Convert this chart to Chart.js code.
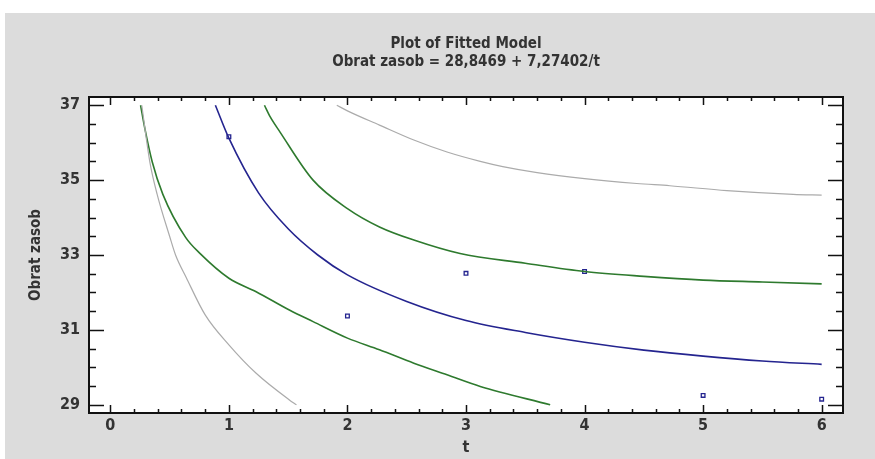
<!DOCTYPE html>
<html><head><meta charset="utf-8">
<script src="https://cdn.jsdelivr.net/npm/chart.js@4.4.1/dist/chart.umd.min.js"></script>
<style>
html,body{margin:0;padding:0;background:#fff;width:875px;height:459px;overflow:hidden}
#wrap{position:absolute;left:5px;top:13px;width:870px;height:446px;background:#dcdcdc}
canvas{display:block}
</style></head><body>
<div id="wrap"><canvas id="c" width="870" height="446"></canvas></div>
<script>
// ---- text ----
const titleLines = ['Plot of Fitted Model', 'Obrat zasob = 28,8469 + 7,27402/t'];
const xTitle = 't';
const yTitle = 'Obrat zasob';
// ---- ticks / ranges ----
const xTicks = [0, 1, 2, 3, 4, 5, 6];
const yTicks = [29, 31, 33, 35, 37];
const xRange = [-0.18, 6.18];
const yRange = [28.78, 37.22];
// ---- fitted line ----
const fitT = [0.886, 1, 1.25, 1.5, 1.75, 2, 2.5, 3, 3.5, 4, 4.5, 5, 5.5, 6];
const fitY = [37.0, 36.12, 34.66, 33.70, 33.00, 32.47, 31.76, 31.25, 30.93, 30.67, 30.46, 30.30, 30.17, 30.08];
// ---- confidence limits (green) ----
const confUpT = [1.30, 1.35, 1.43, 1.71, 2.0, 2.27, 2.56, 2.95, 3.5, 4.0, 4.5, 5.0, 5.5, 6.0];
const confUpY = [37.0, 36.68, 36.29, 35.0, 34.24, 33.75, 33.40, 33.04, 32.78, 32.56, 32.43, 32.33, 32.28, 32.23];
const confLoT = [0.255, 0.291, 0.353, 0.443, 0.635, 0.76, 1.0, 1.23, 1.51, 1.71, 2.0, 2.27, 2.56, 2.84, 3.12, 3.71];
const confLoY = [37.0, 36.38, 35.49, 34.62, 33.47, 33.03, 32.38, 32.02, 31.53, 31.22, 30.78, 30.47, 30.11, 29.80, 29.49, 29.0];
// ---- prediction limits (gray) ----
const predUpT = [1.91, 2.0, 2.27, 2.56, 2.84, 3.12, 3.31, 3.6, 4.0, 4.44, 4.72, 5.2, 5.76, 6.0];
const predUpY = [37.0, 36.85, 36.47, 36.07, 35.75, 35.50, 35.36, 35.20, 35.04, 34.91, 34.85, 34.72, 34.62, 34.60];
const predLoT = [0.265, 0.333, 0.395, 0.50, 0.55, 0.64, 0.80, 1.0, 1.23, 1.51, 1.57];
const predLoY = [37.0, 35.49, 34.62, 33.50, 33.00, 32.40, 31.40, 30.60, 29.84, 29.13, 29.0];
// ---- observations ----
const obsT = [1, 2, 3, 4, 5, 6];
const obsY = [36.16, 31.37, 32.51, 32.56, 29.25, 29.15];

const zip = (xs, ys) => xs.map((x, i) => ({x, y: ys[i]}));
const FONT = "'DejaVu Sans Condensed', 'Liberation Sans', sans-serif";
const TXT = '#333333';

const curve = (data, color, w) => ({
  data, showLine: true, borderColor: color, borderWidth: w, pointRadius: 0,
  fill: false, cubicInterpolationMode: 'monotone'
});

const frame = {
  id: 'frame',
  beforeDatasetsDraw(chart) {
    const {ctx, chartArea: a} = chart;
    ctx.save();
    ctx.fillStyle = '#ffffff';
    ctx.fillRect(a.left, a.top, a.right - a.left, a.bottom - a.top);
    ctx.restore();
  },
  afterDatasetsDraw(chart) {
    const {ctx, chartArea: a, scales: {x, y}} = chart;
    ctx.save();
    ctx.strokeStyle = '#111';
    ctx.lineWidth = 1.5;
    ctx.beginPath();
    for (let i = 0; i <= 30; i++) {
      const px = Math.round(x.getPixelForValue(i / 5)) + 0.5;
      const len = i % 5 === 0 ? 8 : 4;
      ctx.moveTo(px, a.bottom); ctx.lineTo(px, a.bottom - len);
      ctx.moveTo(px, a.top); ctx.lineTo(px, a.top + len);
    }
    for (let i = 0; i <= 16; i++) {
      const py = Math.round(y.getPixelForValue(29 + i / 2)) + 0.5;
      const len = i % 4 === 0 ? 15 : 7;
      ctx.moveTo(a.left, py); ctx.lineTo(a.left + len, py);
      ctx.moveTo(a.right, py); ctx.lineTo(a.right - len, py);
    }
    ctx.stroke();
    ctx.lineWidth = 2;
    ctx.strokeRect(a.left, a.top, a.right - a.left, a.bottom - a.top);
    ctx.restore();
  }
};

new Chart(document.getElementById('c'), {
  type: 'scatter',
  data: {
    datasets: [
      curve(zip(predUpT, predUpY), '#ababab', 1.2),
      curve(zip(predLoT, predLoY), '#ababab', 1.2),
      curve(zip(confUpT, confUpY), '#2e7a2e', 1.6),
      curve(zip(confLoT, confLoY), '#2e7a2e', 1.6),
      curve(zip(fitT, fitY), '#24248f', 1.6),
      {
        data: zip(obsT, obsY), showLine: false, pointStyle: 'rect', pointRadius: 2.6,
        borderColor: '#24248f', backgroundColor: '#ffffff', borderWidth: 1.3
      }
    ]
  },
  options: {
    responsive: false, animation: false, devicePixelRatio: 1,
    layout: {padding: {left: 18, right: 32, top: 0, bottom: 0}},
    plugins: {
      legend: {display: false}, tooltip: {enabled: false},
      title: {
        display: true, text: titleLines, color: TXT, fullSize: false,
        font: {family: FONT, size: 15, weight: 'bold', lineHeight: '18px'},
        padding: {top: 22, bottom: 26}
      }
    },
    scales: {
      x: {
        type: 'linear', min: xRange[0], max: xRange[1],
        afterBuildTicks: s => { s.ticks = xTicks.map(v => ({value: v})); },
        afterFit: s => { s.height = 46; },
        grid: {display: false, drawTicks: false}, border: {display: false},
        ticks: {color: TXT, padding: 3, font: {family: FONT, size: 16, weight: 'bold'}},
        title: {display: true, text: xTitle, color: TXT, padding: {top: 0, bottom: 2},
          font: {family: FONT, size: 16, weight: 'bold'}}
      },
      y: {
        type: 'linear', min: yRange[0], max: yRange[1],
        afterBuildTicks: s => { s.ticks = yTicks.map(v => ({value: v})); },
        afterFit: s => { s.width = 66; },
        grid: {display: false, drawTicks: false}, border: {display: false},
        ticks: {color: TXT, padding: 9, font: {family: FONT, size: 16, weight: 'bold'}},
        title: {display: true, text: yTitle, color: TXT, padding: {top: 4, bottom: 0},
          font: {family: FONT, size: 15, weight: 'bold'}}
      }
    }
  },
  plugins: [frame]
});
</script>
</body></html>
